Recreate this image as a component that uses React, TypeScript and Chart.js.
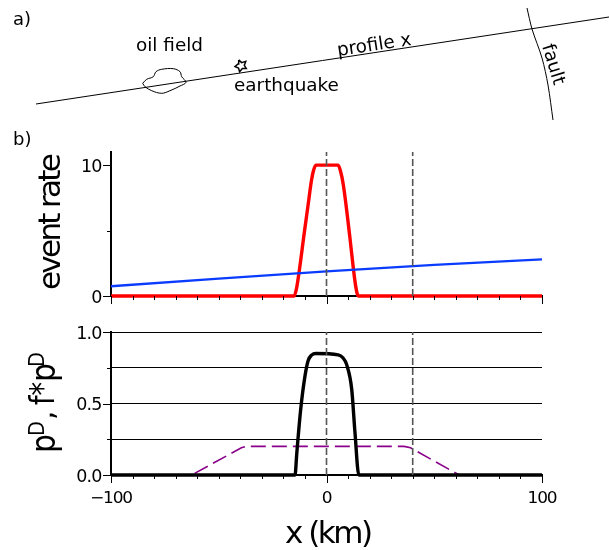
import React, { useEffect, useRef } from "react";
import { Chart, registerables } from "chart.js";

Chart.register(...registerables);

const FONT = "'DejaVu Sans'";

// Panel a (schematic map)
const profileLine = [{ x: 36, y: 104 }, { x: 609, y: 17 }];
const faultLine = [
  { x: 527, y: 8 }, { x: 532, y: 29 }, { x: 542, y: 58 }, { x: 548, y: 85 }, { x: 553, y: 120 },
];
const oilField = [
  { x: 142.7, y: 83.3 }, { x: 146.7, y: 79.3 }, { x: 153.3, y: 76.7 }, { x: 156, y: 71.7 },
  { x: 161.7, y: 69.3 }, { x: 173.3, y: 68.7 }, { x: 180, y: 71.7 }, { x: 181.7, y: 76.7 },
  { x: 186, y: 82.3 }, { x: 180, y: 86 }, { x: 170, y: 90.7 }, { x: 161.7, y: 93.3 },
  { x: 151.7, y: 90.7 }, { x: 145, y: 86.7 }, { x: 142.7, y: 83.3 },
];
const quakeStar = [
  { x: 238.7, y: 59.9 }, { x: 241.6, y: 62.6 }, { x: 245.8, y: 61.4 }, { x: 244.3, y: 65.3 },
  { x: 246.3, y: 68.6 }, { x: 242.4, y: 68.6 }, { x: 239.6, y: 71.8 }, { x: 238.5, y: 68 },
  { x: 235, y: 66.6 }, { x: 238, y: 64 }, { x: 238.7, y: 59.9 },
];

// Panel b, shared
const xMin = -100;
const xMax = 100;
const xMajor = [-100, 0, 100];
const xMinor = [-90, -80, -70, -60, -50, -40, -30, -20, -10, 10, 20, 30, 40, 50, 60, 70, 80, 90];
const dashedX = [0, 40];

// Upper panel
const rateMax = 11;
const rateTicks = [0, 5, 10];
const rateLabelled = [0, 10];
const redRate = [
  { x: -100, y: 0 }, { x: -15, y: 0 }, { x: -14, y: 0.5 }, { x: -13, y: 1.5 }, { x: -12, y: 2.7 }, { x: -10.5, y: 4.6 },
  { x: -8.5, y: 7 }, { x: -7, y: 8.8 }, { x: -6, y: 9.6 }, { x: -4.9, y: 10 }, { x: 5.4, y: 10 },
  { x: 6.4, y: 9.6 }, { x: 7.8, y: 8.5 }, { x: 10.9, y: 4.4 }, { x: 12.4, y: 2.2 }, { x: 13.6, y: 0.7 },
  { x: 14.7, y: 0 }, { x: 100, y: 0 },
];
const blueRate = [
  { x: -100, y: 0.75 }, { x: -50, y: 1.33 }, { x: 0, y: 1.88 }, { x: 50, y: 2.38 }, { x: 100, y: 2.8 },
];

// Lower panel
const probTicks = [0, 0.25, 0.5, 0.75, 1];
const probLabelled = [0, 0.5, 1];
const blackProb = [
  { x: -100, y: 0 }, { x: -14.6, y: 0 }, { x: -13.8, y: 0.15 }, { x: -12, y: 0.455 }, { x: -10, y: 0.69 },
  { x: -8.5, y: 0.8 }, { x: -6.8, y: 0.84 }, { x: -5, y: 0.85 }, { x: 5.4, y: 0.84 }, { x: 7.6, y: 0.82 },
  { x: 9.4, y: 0.77 }, { x: 11.7, y: 0.6 }, { x: 13.2, y: 0.3 }, { x: 15, y: 0 }, { x: 100, y: 0 },
];
const purpleProb = [
  { x: -100, y: 0 }, { x: -62.6, y: 0 }, { x: -39.5, y: 0.19 }, { x: -37.5, y: 0.2 }, { x: 36, y: 0.2 },
  { x: 39, y: 0.19 }, { x: 61.6, y: 0 }, { x: 100, y: 0 },
];

const minusSign = "\u2212";

function vLines(top: number) {
  return dashedX.map((x) => ({
    data: [{ x, y: 0 }, { x, y: top }],
    borderColor: "#555555",
    borderWidth: 1.6,
    borderDash: [7, 3],
    tension: 0,
  }));
}

type Label = {
  text: string; x: number; y: number; size: number; rot?: number; align?: string; sx?: number; spacing?: number;
};

function drawLabels(chart: any, labels: Label[]) {
  const ctx = chart.ctx;
  ctx.save();
  ctx.fillStyle = "#000";
  ctx.textBaseline = "alphabetic";
  labels.forEach((t) => {
    ctx.save();
    ctx.font = `${t.size}px ${FONT}`;
    ctx.letterSpacing = `${t.spacing ?? 0}px`;
    ctx.textAlign = t.align ?? "left";
    ctx.translate(t.x, t.y);
    ctx.rotate(((t.rot ?? 0) * Math.PI) / 180);
    ctx.scale(t.sx ?? 1, 1);
    ctx.fillText(t.text, 0, 0);
    ctx.restore();
  });
  ctx.restore();
}

function marksPlugin(yMajor: number[], yMinor: number[], xLabels: boolean, labels: Label[]) {
  return {
    id: "marks",
    afterDraw(chart: any) {
      const { ctx, scales } = chart;
      const bottom = chart.chartArea.bottom;
      const left = chart.chartArea.left;
      ctx.save();
      ctx.strokeStyle = "#000";
      ctx.lineWidth = 1;
      const vert = (v: number, len: number) => {
        const p = Math.round(scales.x.getPixelForValue(v)) + 0.5;
        ctx.beginPath(); ctx.moveTo(p, bottom); ctx.lineTo(p, bottom + len); ctx.stroke();
      };
      const horz = (v: number, len: number) => {
        const p = Math.round(scales.y.getPixelForValue(v)) + 0.5;
        ctx.beginPath(); ctx.moveTo(left, p); ctx.lineTo(left - len, p); ctx.stroke();
      };
      xMajor.forEach((v) => vert(v, 8));
      xMinor.forEach((v) => vert(v, 4));
      yMajor.forEach((v) => horz(v, 8));
      yMinor.forEach((v) => horz(v, 4));
      ctx.restore();

      const tickLabels: Label[] = [];
      scales.y.ticks.forEach((t: any) => {
        if (t.label) {
          tickLabels.push({
            text: t.label, x: left - 9.5, y: scales.y.getPixelForValue(t.value) + 6.5,
            size: 17.5, align: "right", spacing: -0.9,
          });
        }
      });
      if (xLabels) {
        scales.x.ticks.forEach((t: any) => {
          tickLabels.push({
            text: t.label, x: scales.x.getPixelForValue(t.value), y: bottom + 28,
            size: 16, align: "center", sx: 1.06, spacing: -1.1,
          });
        });
      }
      drawLabels(chart, tickLabels.concat(labels));
    },
  };
}

const schematicTexts: Label[] = [
  { text: "a)", x: 13, y: 25, size: 18 },
  { text: "b)", x: 13, y: 145, size: 18 },
  { text: "oil field", x: 136, y: 51, size: 18.4 },
  { text: "earthquake", x: 234, y: 91, size: 18.4 },
  { text: "profile x", x: 338, y: 56, size: 18.4, rot: -8.6 },
  { text: "fault", x: 542, y: 46, size: 18.4, rot: 73 },
];

const rateTitles: Label[] = [
  { text: "event rate", x: 60, y: 290, size: 31, rot: -90, spacing: -2.7 },
];

const probTitles: Label[] = [
  { text: "p", x: 55, y: 453, size: 34, rot: -90, sx: 0.88 },
  { text: "D", x: 44, y: 436, size: 21.5, rot: -90, sx: 0.9 },
  { text: ",", x: 53, y: 420, size: 30, rot: -90 },
  { text: "f*", x: 54, y: 405, size: 34, rot: -90, sx: 0.8 },
  { text: "p", x: 55, y: 382, size: 34, rot: -90, sx: 0.88 },
  { text: "D", x: 44, y: 367, size: 21.5, rot: -90, sx: 0.9 },
  { text: "x (km)", x: 285, y: 543, size: 31, spacing: -2.5 },
];

const baseElements = { point: { radius: 0, hoverRadius: 0 }, line: { fill: false } };

function makeSchematic(canvas: HTMLCanvasElement) {
  const line = (data: any[], width: number, tension = 0) => ({
    data, borderColor: "#000", borderWidth: width, tension, clip: false, showLine: true,
  });
  return new Chart(canvas, {
    type: "scatter",
    data: {
      datasets: [
        line(profileLine, 1),
        line(faultLine, 1, 0.3),
        line(oilField, 1, 0.35),
        line(quakeStar, 1.5),
      ],
    },
    options: {
      animation: false, responsive: false, events: [],
      layout: { padding: 0 },
      elements: baseElements,
      plugins: { legend: { display: false }, tooltip: { enabled: false } },
      scales: {
        x: { type: "linear", min: 0, max: 609, display: false },
        y: { type: "linear", min: 0, max: 550, reverse: true, display: false },
      },
    },
    plugins: [{ id: "schematicText", afterDraw: (c: any) => drawLabels(c, schematicTexts) }],
  } as any);
}

function panelOptions(o: {
  top: number; bottom: number; yMax: number; yTicks: number[]; yLabelled: number[];
  decimals: number; grid: boolean;
}) {
  return {
    animation: false, responsive: false, events: [],
    layout: { padding: { left: 0, right: 67, top: o.top, bottom: 0 } },
    elements: baseElements,
    plugins: { legend: { display: false }, tooltip: { enabled: false } },
    scales: {
      x: {
        type: "linear", min: xMin, max: xMax,
        afterBuildTicks: (s: any) => { s.ticks = xMajor.map((value) => ({ value })); },
        afterFit: (s: any) => { s.height = 550 - o.bottom; },
        border: { display: true, width: 2, color: "#000" },
        grid: { drawOnChartArea: false, drawTicks: false },
        ticks: {
          display: false, maxRotation: 0, autoSkip: false,
          callback: (v: number) => (v < 0 ? minusSign + Math.abs(v) : String(v)),
        },
      },
      y: {
        type: "linear", min: 0, max: o.yMax,
        afterBuildTicks: (s: any) => { s.ticks = o.yTicks.map((value) => ({ value })); },
        afterFit: (s: any) => { s.width = 111; },
        border: { display: true, width: 2, color: "#000" },
        grid: { drawOnChartArea: o.grid, drawTicks: false, color: "#000", lineWidth: 1 },
        ticks: {
          display: false, autoSkip: false,
          callback: (v: number) => (o.yLabelled.includes(v) ? v.toFixed(o.decimals) : ""),
        },
      },
    },
  };
}

function makeRate(canvas: HTMLCanvasElement) {
  return new Chart(canvas, {
    type: "scatter",
    data: {
      datasets: [
        ...vLines(rateMax),
        { data: blueRate, borderColor: "#0a3cff", borderWidth: 2.4, tension: 0 },
        { data: redRate, borderColor: "#ff0000", borderWidth: 3.4, cubicInterpolationMode: "monotone" },
      ].map((d) => ({ ...d, showLine: true, clip: false })),
    },
    options: panelOptions({
      top: 152, bottom: 296, yMax: rateMax, yTicks: rateTicks, yLabelled: rateLabelled,
      decimals: 0, grid: false,
    }),
    plugins: [marksPlugin(rateLabelled, [5], false, rateTitles)],
  } as any);
}

function makeProb(canvas: HTMLCanvasElement) {
  return new Chart(canvas, {
    type: "scatter",
    data: {
      datasets: [
        ...vLines(1),
        { data: blackProb, borderColor: "#000", borderWidth: 3.4, cubicInterpolationMode: "monotone" },
        { data: purpleProb, borderColor: "#8b008b", borderWidth: 1.6, borderDash: [15, 6], tension: 0 },
      ].map((d) => ({ ...d, showLine: true, clip: false })),
    },
    options: panelOptions({
      top: 332, bottom: 475, yMax: 1, yTicks: probTicks, yLabelled: probLabelled,
      decimals: 1, grid: true,
    }),
    plugins: [marksPlugin(probLabelled, [0.25, 0.75], true, probTitles)],
  } as any);
}

const canvasStyle: React.CSSProperties = { position: "absolute", left: 0, top: 0, width: 609, height: 550 };

export default function App() {
  const a = useRef<HTMLCanvasElement>(null);
  const b = useRef<HTMLCanvasElement>(null);
  const c = useRef<HTMLCanvasElement>(null);
  useEffect(() => {
    document.body.style.margin = "0";
    const charts = [makeSchematic(a.current!), makeRate(b.current!), makeProb(c.current!)];
    return () => charts.forEach((ch) => ch.destroy());
  }, []);
  return (
    <div style={{ position: "relative", width: 609, height: 550, background: "#fff" }}>
      <canvas ref={a} width={609} height={550} style={canvasStyle} />
      <canvas ref={b} width={609} height={550} style={canvasStyle} />
      <canvas ref={c} width={609} height={550} style={canvasStyle} />
    </div>
  );
}
